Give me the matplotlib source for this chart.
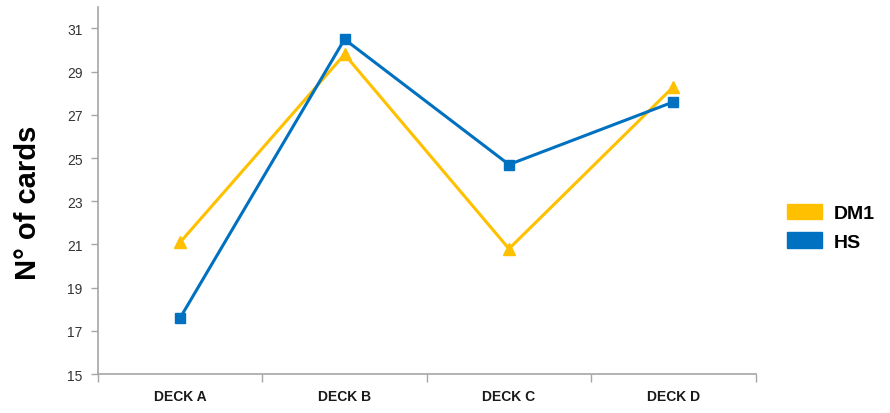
import matplotlib
matplotlib.use("Agg")
import matplotlib.pyplot as plt
from matplotlib.patches import Patch
from matplotlib.ticker import FixedLocator

decks = ["DECK A", "DECK B", "DECK C", "DECK D"]
dm1 = [21.1, 29.8, 20.8, 28.3]
hs = [17.6, 30.5, 24.7, 27.6]
y_ticks = [15, 17, 19, 21, 23, 25, 27, 29, 31]

yellow = "#FFC000"
blue = "#0070C0"
axis_gray = "#A6A6A6"

plt.rcParams["font.family"] = ["Liberation Sans", "DejaVu Sans"]

fig = plt.figure(figsize=(8.9, 4.14), dpi=100)
ax = fig.add_axes([0.110, 0.094, 0.739, 0.887])

x = list(range(len(decks)))
ax.plot(x, dm1, color=yellow, lw=2.2, marker="^", ms=8, zorder=3)
ax.plot(x, hs, color=blue, lw=2.2, marker="s", ms=7.5, zorder=4)

ax.set_xlim(-0.5, len(decks) - 0.5)
ax.set_ylim(15, 32)
ax.set_yticks(y_ticks)
ax.set_xticks(x)
ax.set_xticklabels(decks, fontsize=10, fontweight="bold", color="#1a1a1a")
ax.xaxis.set_minor_locator(FixedLocator([i - 0.5 for i in range(len(decks) + 1)]))
ax.tick_params(axis="x", which="major", length=0, pad=11)
ax.tick_params(axis="x", which="minor", length=6, width=1, color=axis_gray, direction="out")
ax.tick_params(axis="y", length=5, width=1, color=axis_gray, labelsize=10,
               labelcolor="#333333", pad=6)

for s in ["top", "right"]:
    ax.spines[s].set_visible(False)
for s in ["left", "bottom"]:
    ax.spines[s].set_color(axis_gray)
    ax.spines[s].set_linewidth(1.2)

ax.set_ylabel("N° of cards", fontsize=21, fontweight="bold")
ax.yaxis.set_label_coords(-0.085, 0.47)

handles = [Patch(facecolor=yellow, edgecolor=yellow, label="DM1"),
           Patch(facecolor=blue, edgecolor=blue, label="HS")]
fig.legend(handles=handles, loc="center left", bbox_to_anchor=(0.884, 0.449),
           frameon=False, borderpad=0, borderaxespad=0,
           handlelength=1.8, handleheight=0.87, handletextpad=0.6,
           labelspacing=0.5, prop={"size": 14, "weight": "bold"})

fig.savefig("out.png", dpi=100)
